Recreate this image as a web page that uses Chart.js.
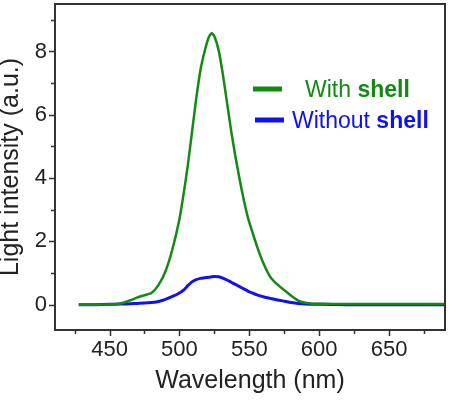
<!DOCTYPE html>
<html>
<head>
<meta charset="utf-8">
<script src="https://cdn.jsdelivr.net/npm/chart.js@4.4.1/dist/chart.umd.min.js"></script>
<style>
  html, body { margin: 0; padding: 0; background: #fff; }
  #wrap { width: 458px; height: 405px; position: relative; }
</style>
</head>
<body>
<div id="wrap"><canvas id="c"></canvas></div>
<script>
// ---- data ----
const wavelength = [428, 440, 450, 458, 465, 470, 475, 480, 485, 490, 495, 500, 503, 506, 509, 512, 515, 518, 521, 523, 525, 528, 531, 534, 537, 540, 543, 546, 549, 552, 556, 560, 565, 570, 575, 580, 585, 590, 595, 600, 620, 650, 690];
const withShell = [0.0, 0.0, 0.01, 0.04, 0.14, 0.23, 0.30, 0.37, 0.62, 1.05, 1.75, 2.70, 3.50, 4.40, 5.45, 6.50, 7.40, 8.00, 8.45, 8.58, 8.48, 8.05, 7.30, 6.40, 5.50, 4.70, 3.98, 3.32, 2.75, 2.32, 1.78, 1.32, 0.88, 0.64, 0.46, 0.28, 0.13, 0.06, 0.03, 0.03, 0.02, 0.02, 0.02];
const withoutShell = [0.0, 0.0, 0.01, 0.02, 0.03, 0.04, 0.05, 0.07, 0.10, 0.17, 0.26, 0.37, 0.46, 0.60, 0.72, 0.79, 0.83, 0.85, 0.87, 0.88, 0.89, 0.88, 0.84, 0.78, 0.71, 0.64, 0.57, 0.50, 0.43, 0.37, 0.30, 0.25, 0.20, 0.15, 0.11, 0.07, 0.04, 0.02, 0.01, 0.01, 0.0, 0.0, 0.0];
const xTicks = [450, 500, 550, 600, 650];
const xMinorTicks = [425, 475, 525, 575, 625, 675];
const yTicks = [0, 2, 4, 6, 8];
const yMinorTicks = [1, 3, 5, 7, 9];
const seriesNames = ['With', 'Without'];
const seriesBold = 'shell';

const GREEN = '#138a13';
const BLUE = '#1010f0';
const FONT = 'Arial, "Liberation Sans", sans-serif';
const TEXT = '#222';

const toPts = (ys) => wavelength.map((x, i) => ({ x, y: ys[i] }));

const framePlugin = {
  id: 'frameTicks',
  afterDraw(chart) {
    const { ctx, chartArea: a, scales } = chart;
    ctx.save();
    ctx.strokeStyle = '#333';
    ctx.lineWidth = 2;
    ctx.strokeRect(a.left, a.top, a.right - a.left, a.bottom - a.top);
    ctx.lineWidth = 1.5;
    ctx.beginPath();
    xTicks.forEach(v => { const p = Math.round(scales.x.getPixelForValue(v)) + 0.5; ctx.moveTo(p, a.bottom); ctx.lineTo(p, a.bottom + 6); });
    xMinorTicks.forEach(v => { const p = Math.round(scales.x.getPixelForValue(v)) + 0.5; if (p < a.right) { ctx.moveTo(p, a.bottom); ctx.lineTo(p, a.bottom + 4); } });
    yTicks.forEach(v => { const p = Math.round(scales.y.getPixelForValue(v)) + 0.5; ctx.moveTo(a.left, p); ctx.lineTo(a.left - 6, p); });
    yMinorTicks.forEach(v => { const p = Math.round(scales.y.getPixelForValue(v)) + 0.5; if (p > a.top) { ctx.moveTo(a.left, p); ctx.lineTo(a.left - 4, p); } });
    ctx.stroke();

    // legend
    const items = [
      { color: GREEN, name: seriesNames[0], lx: 253, ly: 89, tx: 305, ty: 97 },
      { color: BLUE, name: seriesNames[1], lx: 255, ly: 120, tx: 292, ty: 128 }
    ];
    items.forEach(it => {
      ctx.strokeStyle = it.color;
      ctx.lineWidth = 5;
      ctx.beginPath();
      ctx.moveTo(it.lx, it.ly); ctx.lineTo(it.lx + 29, it.ly);
      ctx.stroke();
      ctx.fillStyle = it.color;
      ctx.textBaseline = 'alphabetic';
      ctx.textAlign = 'left';
      ctx.font = '23px ' + FONT;
      const t1 = it.name + ' ';
      ctx.fillText(t1, it.tx, it.ty);
      const w = ctx.measureText(t1).width;
      ctx.font = 'bold 23px ' + FONT;
      ctx.fillText(seriesBold, it.tx + w, it.ty);
    });
    ctx.restore();
  }
};

new Chart(document.getElementById('c'), {
  type: 'line',
  data: {
    datasets: [
      { label: 'With shell', data: toPts(withShell), borderColor: GREEN, borderWidth: 2.5, pointRadius: 0, tension: 0.2, fill: false, order: 0 },
      { label: 'Without shell', data: toPts(withoutShell), borderColor: BLUE, borderWidth: 3, pointRadius: 0, tension: 0.2, fill: false, order: 1 }
    ]
  },
  options: {
    responsive: true,
    maintainAspectRatio: false,
    animation: false,
    layout: { padding: { left: 0, right: 13, top: 4, bottom: 0 } },
    plugins: { legend: { display: false }, tooltip: { enabled: false } },
    scales: {
      x: {
        type: 'linear',
        min: 411, max: 690,
        afterBuildTicks: s => { s.ticks = xTicks.map(v => ({ value: v })); },
        afterFit: s => { s.height = 75; s.paddingLeft = 0; s.paddingRight = 0; },
        grid: { display: false, drawTicks: false },
        border: { display: false },
        ticks: { color: TEXT, font: { family: FONT, size: 22 }, padding: 7, maxRotation: 0 },
        title: { display: true, text: 'Wavelength (nm)', color: TEXT, font: { family: FONT, size: 25 }, padding: { top: 0, bottom: 9 } }
      },
      y: {
        min: -0.8, max: 9.5,
        afterBuildTicks: s => { s.ticks = yTicks.map(v => ({ value: v })); },
        afterFit: s => { s.width = 55; s.paddingTop = 0; s.paddingBottom = 0; },
        grid: { display: false, drawTicks: false },
        border: { display: false },
        ticks: { color: TEXT, font: { family: FONT, size: 22 }, padding: 8 },
        title: { display: true, text: 'Light intensity (a.u.)', color: TEXT, font: { family: FONT, size: 25, lineHeight: 0.9 }, padding: { top: 0, bottom: 0 } }
      }
    }
  },
  plugins: [framePlugin]
});
</script>
</body>
</html>
